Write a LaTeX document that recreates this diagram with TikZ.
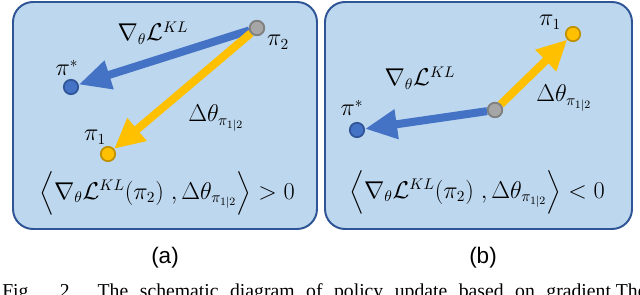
\documentclass[tikz,border=0pt]{standalone}
\usepackage{tikz}
\usepackage{amsmath}
\usepackage{fontspec}
\usetikzlibrary{arrows.meta, positioning}
\newfontfamily\panelfont{Liberation Sans}
\newfontfamily\capfont{Liberation Serif}
\definecolor{panelfill}{HTML}{BDD7EE}
\definecolor{paneldraw}{HTML}{2F5597}
\definecolor{gradblue}{HTML}{4472C4}
\definecolor{stepgold}{HTML}{FFC000}
\definecolor{golddraw}{HTML}{BF9000}
\definecolor{dotgray}{HTML}{A6A6A6}

\begin{document}
\begin{tikzpicture}[
    x=0.025cm, y=-0.025cm,
    panel/.style={draw=paneldraw, fill=panelfill, line width=1.4pt, rounded corners=0.5cm},
    dot/.style={circle, minimum size=0.36cm, inner sep=0pt, line width=1.2pt},
    startdot/.style={dot, fill=dotgray, draw=gray},
    targetdot/.style={dot, fill=gradblue, draw=paneldraw},
    stepdot/.style={dot, fill=stepgold, draw=golddraw},
    lbl/.style={font=\fontsize{16}{19}\selectfont, inner sep=1pt},
    gradarrow/.style={draw=gradblue, line width=0.2cm, -{Triangle[length=0.8cm, width=0.7cm]}},
    steparrow/.style={draw=stepgold, line width=0.2cm, -{Triangle[length=0.75cm, width=0.7cm]}}
]
\useasboundingbox (0,0) rectangle (640,295);

% Panels
\draw[panel] (13,2) rectangle (317,229);
\draw[panel] (325,2) rectangle (632,229);

% Nodes (a)
\node[startdot] (a2) at (257,28) {};
\node[targetdot] (astar) at (71,87) {};
\node[stepdot] (a1) at (108,154) {};
\node[lbl] (a2lbl) at (278,42) {$\pi_2$};
\node[lbl] (astarlbl) at (67,68) {$\pi^*$};
\node[lbl] (a1lbl) at (95,137) {$\pi_1$};
\node[lbl] (agrad) at (153,33) {$\nabla_\theta \mathcal{L}^{KL}$};
\node[lbl] (astep) at (216,118) {$\Delta\theta_{\pi_{1|2}}$};
\node[lbl] (aprod) at (167,193) {$\Big\langle \nabla_\theta \mathcal{L}^{KL}(\pi_2)\ , \Delta\theta_{\pi_{1|2}} \Big\rangle > 0$};

% Nodes (b)
\node[startdot] (b2) at (495,110) {};
\node[targetdot] (bstar) at (357,130) {};
\node[stepdot] (b1) at (573,34) {};
\node[lbl] (bstarlbl) at (352,108) {$\pi^*$};
\node[lbl] (b1lbl) at (550,22) {$\pi_1$};
\node[lbl] (bgrad) at (420,78) {$\nabla_\theta \mathcal{L}^{KL}$};
\node[lbl] (bstep) at (564,98) {$\Delta\theta_{\pi_{1|2}}$};
\node[lbl] (bprod) at (477,192) {$\Big\langle \nabla_\theta \mathcal{L}^{KL}(\pi_2)\ , \Delta\theta_{\pi_{1|2}} \Big\rangle < 0$};

% Captions
\node[font=\panelfont\fontsize{16}{19}\selectfont] (acap) at (165,258) {(a)};
\node[font=\panelfont\fontsize{16}{19}\selectfont] (bcap) at (483,258) {(b)};
\node[font=\capfont\fontsize{14}{17}\selectfont, anchor=base west, inner sep=0pt] (figcap) at (2,298)
    {\makebox[16.1cm][s]{Fig. 2.\ \ The schematic diagram of policy update based on gradient.The}};

% Arrows
\draw[gradarrow] (a2) -- (astar);
\draw[steparrow] (a2) -- (a1);
\draw[gradarrow] (b2) -- (bstar);
\draw[steparrow] (b2) -- (b1);
\node[startdot] (a2top) at (a2) {};
\node[startdot] (b2top) at (b2) {};

\end{tikzpicture}
\end{document}
